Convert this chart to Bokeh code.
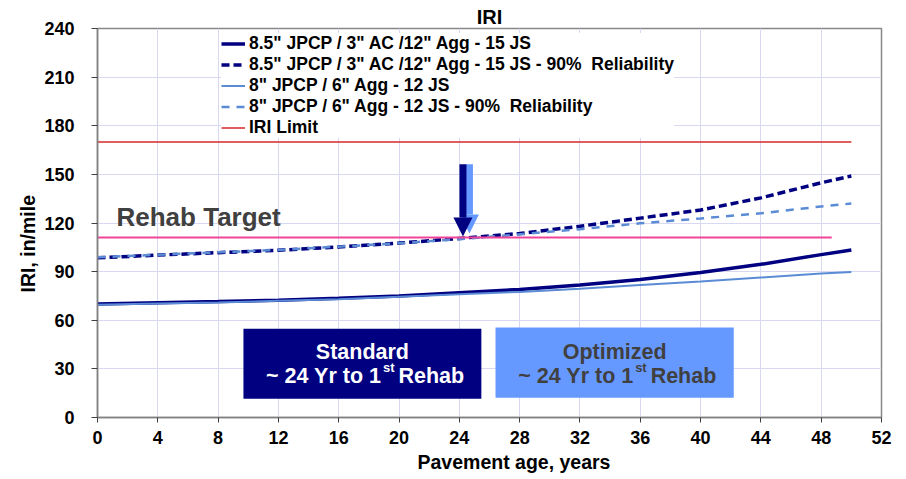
from bokeh.plotting import figure
from bokeh.models import Range1d, FixedTicker, Legend, LegendItem, Label, Arrow, NormalHead, BoxAnnotation, Title
from bokeh.embed import file_html
from bokeh.resources import INLINE

# ---------------- data ----------------
ages = [0, 4, 8, 12, 16, 20, 24, 28, 32, 36, 40, 44, 48, 50]
std_iri = [70.0, 70.8, 71.5, 72.4, 73.5, 75.0, 77.0, 79.0, 81.8, 85.2, 89.5, 94.5, 100.5, 103.3]
std_iri_90 = [98.5, 100.2, 101.7, 103.2, 105.2, 107.6, 110.5, 113.5, 118.0, 123.0, 128.0, 135.5, 144.8, 149.0]
opt_iri = [69.5, 70.3, 71.0, 72.0, 73.0, 74.5, 76.0, 77.5, 79.5, 81.8, 83.9, 86.4, 88.8, 89.7]
opt_iri_90 = [98.8, 100.4, 101.9, 103.4, 105.4, 107.5, 110.0, 113.0, 116.2, 119.8, 122.8, 126.0, 130.2, 132.0]
limit_age = [0, 50]
limit_iri = [170, 170]
target_age = [0, 48.7]
target_iri = [111, 111]

series_labels = [
    '8.5" JPCP / 3" AC /12" Agg - 15 JS',
    '8.5" JPCP / 3" AC /12" Agg - 15 JS - 90%  Reliability',
    '8" JPCP / 6" Agg - 12 JS',
    '8" JPCP / 6" Agg - 12 JS - 90%  Reliability',
    'IRI Limit',
]
x_ticks = list(range(0, 53, 4))
y_ticks = list(range(0, 241, 30))

FONT = "Liberation Sans"
NAVY = "#000080"
LIGHT = "#5B8BD4"
RED = "#D42A2A"
PINK = "#F0449A"
BOXLIGHT = "#6699FF"
GRAY_TXT = "#404040"

p = figure(width=893, height=477, output_backend="svg", toolbar_location=None,
           x_range=Range1d(0, 52), y_range=Range1d(0, 240),
           min_border_left=97, min_border_right=12, min_border_top=28, min_border_bottom=60)
p.background_fill_color = "white"
p.border_fill_color = "white"
p.outline_line_color = "#888888"
p.outline_line_width = 1.5

# title
p.title.text = "IRI"
p.title.align = "center"
p.title.text_font = FONT
p.title.text_font_style = "bold"
p.title.text_font_size = "20px"
p.title.text_color = "black"
p.title.standoff = 2

# grid
p.xgrid.ticker = FixedTicker(ticks=x_ticks)
p.ygrid.ticker = FixedTicker(ticks=y_ticks)
for g in (p.xgrid, p.ygrid):
    g.grid_line_color = "#D8D8F2"
    g.grid_line_width = 1

# axes
p.xaxis.ticker = FixedTicker(ticks=x_ticks)
p.yaxis.ticker = FixedTicker(ticks=y_ticks)
for ax in (p.xaxis, p.yaxis):
    ax.axis_line_color = "#808080"
    ax.axis_line_width = 1.5
    ax.major_tick_line_color = "#404040"
    ax.major_tick_in = 0
    ax.minor_tick_line_color = None
    ax.major_label_text_font = FONT
    ax.major_label_text_font_style = "bold"
    ax.major_label_text_font_size = "18px"
    ax.major_label_text_color = "black"
p.xaxis.major_tick_out = 5
p.yaxis.major_tick_out = 6
p.xaxis.major_label_standoff = 8
p.yaxis.major_label_standoff = 17

# axis titles (as titles so they can be offset like the reference)
p.add_layout(Title(text="Pavement age, years", align="left", offset=320, standoff=4,
                   text_font=FONT, text_font_style="bold", text_font_size="19.5px", text_color="black"), "below")
p.add_layout(Title(text="IRI, in/mile", align="left", offset=125, standoff=6,
                   text_font=FONT, text_font_style="bold", text_font_size="19.5px", text_color="black"), "left")

# lines
r1 = p.line(ages, std_iri, line_color=NAVY, line_width=3.5)
r2 = p.line(ages, std_iri_90, line_color=NAVY, line_width=3.5, line_dash="8 4")
r3 = p.line(ages, opt_iri, line_color=LIGHT, line_width=2)
r4 = p.line(ages, opt_iri_90, line_color=LIGHT, line_width=2.5, line_dash="8 7")
r5 = p.line(limit_age, limit_iri, line_color=RED, line_width=1.5)
p.line(target_age, target_iri, line_color=PINK, line_width=2)

legend = Legend(items=[LegendItem(label=l, renderers=[r]) for l, r in zip(series_labels, [r1, r2, r3, r4, r5])],
                location=(124, 279), orientation="vertical")
legend.background_fill_color = "white"
legend.background_fill_alpha = 1
legend.border_line_color = None
legend.padding = 3
legend.margin = 0
legend.spacing = 0
legend.label_height = 21
legend.glyph_height = 21
legend.glyph_width = 24
legend.label_standoff = 4
legend.label_text_font = FONT
legend.label_text_font_style = "bold"
legend.label_text_font_size = "17.5px"
legend.label_text_color = "black"
p.add_layout(legend)

# rehab target text
p.add_layout(Label(x=1.26, y=118.5, y_offset=8, text="Rehab Target", text_font=FONT, text_font_style="bold",
                   text_font_size="26px", text_color=GRAY_TXT, text_baseline="alphabetic"))

# arrows (light behind, dark in front)
p.add_layout(Arrow(x_start=24.67, y_start=156.2, x_end=24.67, y_end=113.5, line_color=BOXLIGHT,
                   line_width=7, line_cap="butt",
                   end=NormalHead(size=19, fill_color=BOXLIGHT, line_color=BOXLIGHT, line_width=0)))
p.add_layout(Arrow(x_start=24.24, y_start=156.2, x_end=24.24, y_end=111.7, line_color=NAVY,
                   line_width=7, line_cap="butt",
                   end=NormalHead(size=19, fill_color=NAVY, line_color=NAVY, line_width=0)))

# boxes
boxes = [
    dict(left=9.68, right=25.46, bottom=11.5, top=54.8, fill=NAVY, color="white", title="Standard", cx=17.57),
    dict(left=26.4, right=42.2, bottom=12.2, top=55.5, fill=BOXLIGHT, color=GRAY_TXT, title="Optimized", cx=34.3),
]
for b in boxes:
    p.add_layout(BoxAnnotation(left=b["left"], right=b["right"], bottom=b["bottom"], top=b["top"],
                               fill_color=b["fill"], fill_alpha=1, line_color=None))
    p.add_layout(Label(x=b["cx"], y=36.4, y_offset=7, text=b["title"], text_align="center",
                       text_baseline="alphabetic",
                       text_font=FONT, text_font_style="bold", text_font_size="21.5px", text_color=b["color"]))
    p.add_layout(Label(x=b["cx"], y=21.0, x_offset=19, y_offset=7, text="~ 24 Yr to 1", text_align="right",
                       text_baseline="alphabetic", text_font=FONT, text_font_style="bold",
                       text_font_size="21.5px", text_color=b["color"]))
    p.add_layout(Label(x=b["cx"], y=21.0, x_offset=20.5, y_offset=16, text="st", text_align="left",
                       text_baseline="alphabetic", text_font=FONT, text_font_style="bold",
                       text_font_size="13px", text_color=b["color"]))
    p.add_layout(Label(x=b["cx"], y=21.0, x_offset=36, y_offset=7, text="Rehab", text_align="left",
                       text_baseline="alphabetic", text_font=FONT, text_font_style="bold",
                       text_font_size="21.5px", text_color=b["color"]))

open("out.html", "w").write(file_html(p, INLINE))
